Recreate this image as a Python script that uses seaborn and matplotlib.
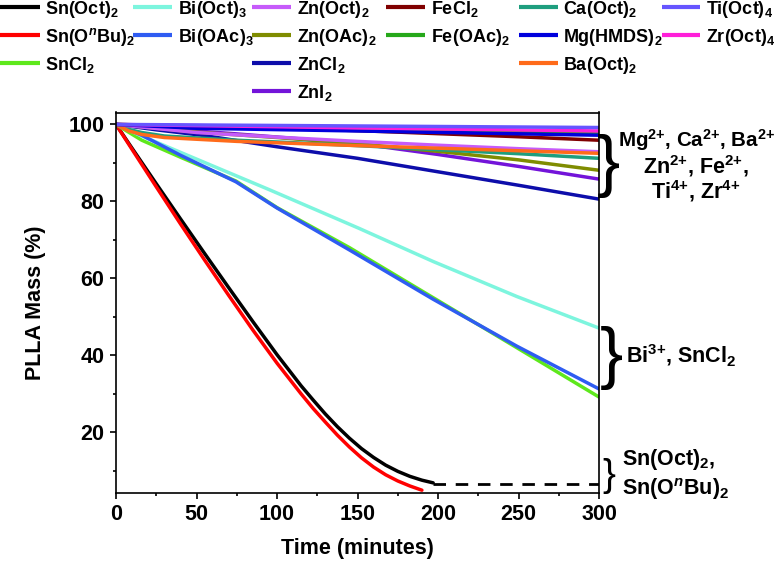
import matplotlib
matplotlib.use("Agg")
import matplotlib.pyplot as plt
import seaborn as sns
from matplotlib.lines import Line2D
from matplotlib.ticker import MultipleLocator

# ---------------- data (time in minutes, PLLA mass in %) ----------------
sn_oct_t = [0, 10, 25, 40, 55, 70, 85, 100, 115, 122.5, 130, 137.5, 145, 152.5, 160,
            167.5, 175, 182.5, 190, 197]
sn_oct_m = [100, 93.8, 84.6, 75.5, 66.5, 57.6, 48.8, 40.2, 32.1, 28.4, 24.8, 21.5, 18.5, 15.8, 13.5,
            11.5, 9.9, 8.6, 7.6, 6.9]
sn_oct_dash_t = [197, 300]
sn_oct_dash_m = [6.5, 6.5]

sn_obu_t = [0, 10, 25, 40, 55, 70, 85, 100, 115, 122.5, 130, 137.5, 145, 152.5, 160,
            167.5, 175, 182.5, 190]
sn_obu_m = [100, 93.5, 83.8, 74.2, 64.8, 55.6, 46.6, 38.0, 30.0, 26.2, 22.7, 19.3, 16.2, 13.4, 11.0,
            9.0, 7.4, 6.1, 5.0]

sncl2_t = [0, 16, 40, 74.5, 100, 145, 197, 249, 300]
sncl2_m = [100, 95.9, 91.5, 85.3, 78.4, 68.0, 55.0, 42.0, 29.2]

bi_oct_t = [0, 16, 50, 95.5, 151, 197, 249, 300]
bi_oct_m = [100, 97.0, 91.0, 83.0, 73.0, 64.4, 55.3, 47.1]

bi_oac_t = [0, 16, 40, 74.5, 100, 145, 197, 249, 300]
bi_oac_m = [100, 97.2, 92.0, 85.1, 78.3, 67.4, 54.6, 42.4, 31.3]

zn_oct_t = [0, 50, 100, 150, 200, 250, 300]
zn_oct_m = [100, 97.9, 96.7, 95.6, 94.6, 93.7, 92.9]

zn_oac_t = [0, 50, 100, 150, 200, 250, 300]
zn_oac_m = [100, 98.0, 96.6, 95.0, 93.0, 90.8, 88.1]

zncl2_t = [0, 25, 55, 100, 150, 200, 250, 300]
zncl2_m = [100, 98.6, 97.1, 94.2, 91.2, 87.7, 84.2, 80.6]

zni2_t = [0, 40, 73, 110, 151, 200, 250, 300]
zni2_m = [100, 98.6, 97.6, 96.4, 95.0, 92.2, 89.1, 85.8]

fecl2_t = [0, 100, 150, 200, 250, 300]
fecl2_m = [100, 99.0, 98.4, 97.6, 96.8, 95.9]

fe_oac_t = [0, 150, 300]
fe_oac_m = [100, 98.8, 97.7]

ca_oct_t = [0, 8, 16, 30, 75, 145, 197, 250, 300]
ca_oct_m = [100, 98.7, 97.9, 97.0, 95.9, 94.6, 93.5, 92.4, 91.2]

mg_hmds_t = [0, 50, 150, 300]
mg_hmds_m = [100, 99.0, 98.3, 97.2]

ba_oct_t = [0, 8, 16, 30, 75, 150, 225, 300]
ba_oct_m = [100, 98.3, 97.4, 96.6, 95.6, 94.5, 93.5, 92.5]

ti_oct_t = [0, 150, 300]
ti_oct_m = [100, 99.6, 99.2]

zr_oct_t = [0, 150, 300]
zr_oct_m = [100, 99.1, 98.3]

x_ticks = [0, 50, 100, 150, 200, 250, 300]
y_ticks = [20, 40, 60, 80, 100]

# ---------------- style ----------------
sns.set_theme(style="ticks")
plt.rcParams['font.family'] = ['Liberation Sans', 'DejaVu Sans']
plt.rcParams['font.weight'] = 'bold'
plt.rcParams['axes.labelweight'] = 'bold'
plt.rcParams['mathtext.fontset'] = 'custom'
plt.rcParams['mathtext.rm'] = 'Liberation Sans:bold'
plt.rcParams['mathtext.it'] = 'Liberation Sans:italic:bold'
plt.rcParams['mathtext.bf'] = 'Liberation Sans:bold'
plt.rcParams['mathtext.default'] = 'regular'
for k in ['text.color', 'axes.labelcolor', 'xtick.color', 'ytick.color', 'axes.edgecolor']:
    plt.rcParams[k] = 'black'

# (label, t, m, color, legend column, legend row) in drawing order
series = [
    ("Sn(Oct)$_2$", sn_oct_t, sn_oct_m, "#000000", 0, 0),
    ("Sn(O$^{\\mathit{n}}$Bu)$_2$", sn_obu_t, sn_obu_m, "#FF0000", 0, 1),
    ("SnCl$_2$", sncl2_t, sncl2_m, "#5EE81C", 0, 2),
    ("Bi(Oct)$_3$", bi_oct_t, bi_oct_m, "#7DF5DE", 1, 0),
    ("Bi(OAc)$_3$", bi_oac_t, bi_oac_m, "#2F5CF2", 1, 1),
    ("ZnCl$_2$", zncl2_t, zncl2_m, "#0D0DAA", 2, 2),
    ("ZnI$_2$", zni2_t, zni2_m, "#7314D9", 2, 3),
    ("Zn(OAc)$_2$", zn_oac_t, zn_oac_m, "#7F8C00", 2, 1),
    ("Ca(Oct)$_2$", ca_oct_t, ca_oct_m, "#1E9E7E", 4, 0),
    ("Zn(Oct)$_2$", zn_oct_t, zn_oct_m, "#C65BFA", 2, 0),
    ("Ba(Oct)$_2$", ba_oct_t, ba_oct_m, "#FF6B1A", 4, 2),
    ("FeCl$_2$", fecl2_t, fecl2_m, "#800000", 3, 0),
    ("Fe(OAc)$_2$", fe_oac_t, fe_oac_m, "#26A81A", 3, 1),
    ("Mg(HMDS)$_2$", mg_hmds_t, mg_hmds_m, "#0000DD", 4, 1),
    ("Zr(Oct)$_4$", zr_oct_t, zr_oct_m, "#FF1FD9", 5, 1),
    ("Ti(Oct)$_4$", ti_oct_t, ti_oct_m, "#6655FF", 5, 0),
]

W, H = 776, 563
fig = plt.figure(figsize=(W / 100, H / 100), dpi=100)
ax = fig.add_axes([116 / W, 1 - 492.5 / H, (599 - 116) / W, (492.5 - 112.5) / H])

for label, t, m, c, _, _ in series:
    sns.lineplot(x=t, y=m, ax=ax, color=c, lw=2.5, estimator=None, legend=False)
sns.lineplot(x=sn_oct_dash_t, y=sn_oct_dash_m, ax=ax, color="black", lw=2.0,
             linestyle=(0, (4.5, 3.5)), estimator=None, legend=False)

ax.set_xlim(0, 300)
ax.set_ylim(4.4, 103.1)
ax.set_xticks(x_ticks)
ax.set_yticks(y_ticks)
ax.xaxis.set_minor_locator(MultipleLocator(25))
ax.yaxis.set_minor_locator(MultipleLocator(10))
ax.tick_params(which='major', direction='out', length=4.5, width=1.2, labelsize=15.5, pad=4)
ax.tick_params(which='minor', direction='out', length=2.5, width=1.2)
for s in ax.spines.values():
    s.set_linewidth(1.2)
    s.set_color('black')
ax.set_xlabel("Time (minutes)", fontsize=15.5, fontweight='bold', labelpad=9)
ax.set_ylabel("PLLA Mass (%)", fontsize=15.5, fontweight='bold', labelpad=16)


def fx(px):
    return px / W


def fy(py):
    return 1 - py / H


# ---------------- legend (manual columns) ----------------
cols = [(0, 40, 45), (133, 172, 178), (252, 291, 297), (386, 425, 431), (519, 558, 563), (662, 700, 706)]
rows = [7, 35, 63, 91]
for label, t, m, c, ci, ri in series:
    x0, x1, xt = cols[ci]
    yc = rows[ri]
    fig.add_artist(Line2D([fx(x0), fx(x1)], [fy(yc), fy(yc)], transform=fig.transFigure,
                          color=c, lw=3.0, solid_capstyle='butt'))
    fig.text(fx(xt), fy(yc + 6.8), label, fontsize=13, fontweight='bold',
             ha='left', va='baseline')

# ---------------- braces and group annotations ----------------
fig.text(fx(608), fy(166.5), "}", fontsize=50, fontweight='normal', ha='center', va='center')
fig.text(fx(611), fy(358.5), "}", fontsize=50, fontweight='normal', ha='center', va='center')
fig.text(fx(609), fy(475.5), "}", fontsize=28, fontweight='normal', ha='center', va='center')

fs = 15.5
fig.text(fx(697), fy(147), "Mg$^{2{+}}$, Ca$^{2{+}}$, Ba$^{2{+}}$", fontsize=14.8, ha='center', va='baseline')
fig.text(fx(696), fy(173), "Zn$^{2{+}}$, Fe$^{2{+}}$,", fontsize=fs, ha='center', va='baseline')
fig.text(fx(696), fy(199), "Ti$^{4{+}}$, Zr$^{4{+}}$", fontsize=fs, ha='center', va='baseline')
fig.text(fx(626), fy(363), "Bi$^{3{+}}$, SnCl$_2$", fontsize=fs, ha='left', va='baseline')
fig.text(fx(622), fy(465), "Sn(Oct)$_2$,", fontsize=fs, ha='left', va='baseline')
fig.text(fx(622), fy(495), "Sn(O$^{\\mathit{n}}$Bu)$_2$", fontsize=fs, ha='left', va='baseline')

fig.savefig("out.png", dpi=100)
